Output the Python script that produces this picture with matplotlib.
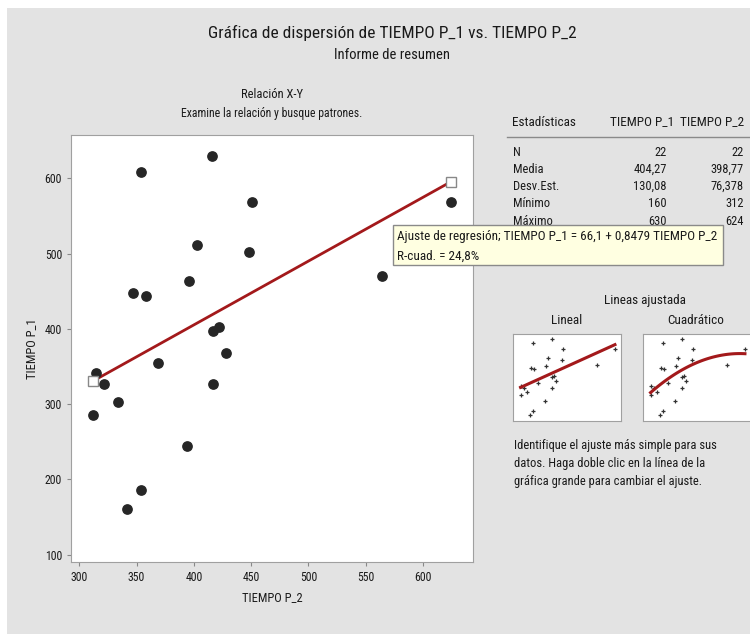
import matplotlib.pyplot as plt
import numpy as np
from matplotlib.patches import Rectangle

plt.rcParams['font.family'] = ['Roboto Condensed', 'Liberation Sans Narrow',
                               'Liberation Sans', 'DejaVu Sans']

# datos
tiempo_p2 = [416, 354, 451, 624, 403, 448, 564, 396, 347, 358, 422,
             417, 428, 369, 315, 322, 417, 334, 312, 394, 354, 342]
tiempo_p1 = [630, 608, 569, 569, 511, 502, 470, 464, 448, 443, 402,
             397, 368, 355, 342, 327, 327, 303, 285, 245, 186, 160]

intercepto = 66.1
pendiente = 0.8479
r_cuad = 24.8

stat_names = ['N', 'Media', 'Desv.Est.', 'Mínimo', 'Máximo']
stat_p1 = ['22', '404,27', '130,08', '160', '630']
stat_p2 = ['22', '398,77', '76,378', '312', '624']

xticks = [300, 350, 400, 450, 500, 550, 600]
yticks = [100, 200, 300, 400, 500, 600]

W, H = 750, 635
GRAY = '#e3e3e3'
RED = '#a3191b'
DARK = '#262626'
TXT = '#1a1a1a'


def px(x, y):
    return x / W, 1 - y / H


def ax_rect(x0, y0, x1, y1):
    return [x0 / W, 1 - y1 / H, (x1 - x0) / W, (y1 - y0) / H]


def coma(v, nd):
    return f'{v:.{nd}f}'.replace('.', ',')


fig = plt.figure(figsize=(7.5, 6.35), dpi=100)
fig.patch.set_facecolor('white')
fig.patches.append(Rectangle(px(7, 634), (W - 7) / W, (634 - 8) / H,
                             transform=fig.transFigure, facecolor=GRAY,
                             edgecolor='none', zorder=-10))

# titulos
fig.text(*px(392, 33), 'Gráfica de dispersión de TIEMPO P_1 vs. TIEMPO P_2',
         ha='center', va='center', fontsize=12.5, color=TXT)
fig.text(*px(392, 55), 'Informe de resumen', ha='center', va='center',
         fontsize=10.5, color=TXT)
fig.text(*px(272, 95), 'Relación X-Y', ha='center', va='center',
         fontsize=9, color=TXT)
fig.text(*px(272, 113), 'Examine la relación y busque patrones.',
         ha='center', va='center', fontsize=8.5, color=TXT)

# grafica principal
ax = fig.add_axes(ax_rect(71, 135, 473, 562))
ax.scatter(tiempo_p2, tiempo_p1, s=45, color=DARK, zorder=3)
xs = np.array([min(tiempo_p2), max(tiempo_p2)])
ax.plot(xs, intercepto + pendiente * xs, color=RED, lw=2, zorder=2)
ax.plot(xs, intercepto + pendiente * xs, ls='none', marker='s', ms=7,
        mfc='white', mec='#888888', mew=1, zorder=4)
ax.set_xlim(292.8, 643.6)
ax.set_ylim(90.2, 657.6)
ax.set_xticks(xticks)
ax.set_yticks(yticks)
ax.tick_params(labelsize=8.5, length=3, color='#888888', labelcolor=TXT)
for s in ax.spines.values():
    s.set_color('#a0a0a0')
ax.set_xlabel('TIEMPO P_2', fontsize=9, color=TXT, labelpad=5)
ax.set_ylabel('TIEMPO P_1', fontsize=9, color=TXT, labelpad=5)

# tabla de estadisticas
fig.text(*px(512, 122), 'Estadísticas', ha='left', va='center', fontsize=9.5, color=TXT)
fig.text(*px(674, 122), 'TIEMPO P_1', ha='right', va='center', fontsize=9.5, color=TXT)
fig.text(*px(744, 122), 'TIEMPO P_2', ha='right', va='center', fontsize=9.5, color=TXT)
fig.add_artist(plt.Line2D([507 / W, 1], [1 - 137 / H] * 2,
                          transform=fig.transFigure, color='#8a8a8a', lw=1))
for i, name in enumerate(stat_names):
    yy = 152 + i * 17.3
    fig.text(*px(513, yy), name, ha='left', va='center', fontsize=9, color=TXT)
    fig.text(*px(667, yy), stat_p1[i], ha='right', va='center', fontsize=9, color=TXT)
    fig.text(*px(744, yy), stat_p2[i], ha='right', va='center', fontsize=9, color=TXT)

# cuadro de ajuste
fig.patches.append(Rectangle(px(393, 265), 330 / W, 40 / H,
                             transform=fig.transFigure, facecolor='#ffffe1',
                             edgecolor='#8a8a8a', lw=1, zorder=5))
fig.text(*px(397, 236),
         f'Ajuste de regresión; TIEMPO P_1 = {coma(intercepto, 1)} + {coma(pendiente, 4)} TIEMPO P_2',
         ha='left', va='center', fontsize=9.5, color=TXT, zorder=6)
fig.text(*px(397, 256), f'R-cuad. = {coma(r_cuad, 1)}%',
         ha='left', va='center', fontsize=9.5, color=TXT, zorder=6)

# lineas ajustadas
fig.text(*px(645, 300), 'Lineas ajustada', ha='center', va='center', fontsize=9.5, color=TXT)
fig.text(*px(567, 321), 'Lineal', ha='center', va='center', fontsize=9.5, color=TXT)
fig.text(*px(696, 321), 'Cuadrático', ha='center', va='center', fontsize=9.5, color=TXT)

xf = np.linspace(min(tiempo_p2), max(tiempo_p2), 60)
coef2 = np.polyfit(tiempo_p2, tiempo_p1, 2)
for x0, grado in [(513, 1), (643, 2)]:
    sa = fig.add_axes(ax_rect(x0, 334, x0 + 108, 421))
    sa.plot(tiempo_p2, tiempo_p1, ls='none', marker='+', ms=3.5, mew=0.9,
            color='#333333')
    if grado == 1:
        sa.plot(xf, intercepto + pendiente * xf, color=RED, lw=2.2)
    else:
        sa.plot(xf, np.polyval(coef2, xf), color=RED, lw=2.2)
    sa.set_xlim(287, 644)
    sa.set_ylim(123, 661)
    sa.set_xticks([])
    sa.set_yticks([])
    for s in sa.spines.values():
        s.set_color('#a0a0a0')

nota = ['Identifique el ajuste más simple para sus',
        'datos. Haga doble clic en la línea de la',
        'gráfica grande para cambiar el ajuste.']
for i, t in enumerate(nota):
    fig.text(*px(514, 446 + i * 18), t, ha='left', va='center', fontsize=9, color=TXT)

fig.savefig('out.png', dpi=100)
